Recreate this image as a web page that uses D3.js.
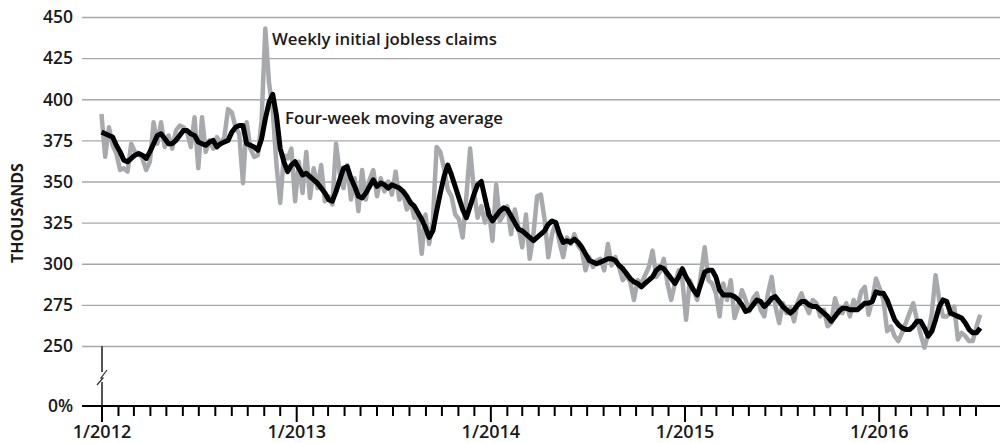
<!DOCTYPE html>
<html>
<head>
<meta charset="utf-8">
<script src="https://cdn.jsdelivr.net/npm/d3@7"></script>
<style>
  body { margin: 0; background: #fff; }
  text { font-family: "Open Sans", sans-serif; }
</style>
</head>
<body>
<svg id="chart" width="1000" height="443"></svg>
<script>
// weekly initial jobless claims, thousands (first week ending 12/31/2011)
var weekly = [
  391,365,383,372,367,357,358,356,373,368,
  367,364,357,362,386,373,386,371,378,370,
  381,384,383,380,371,389,358,389,368,375,
  370,377,373,377,394,392,383,379,349,386,
  370,365,366,387,443,410,393,360,337,366,
  364,370,338,362,343,368,340,358,346,360,
  338,341,336,373,355,346,360,339,352,332,
  357,339,351,357,341,352,344,350,342,356,
  339,343,333,338,328,329,306,330,312,326,
  371,368,358,345,341,330,327,316,341,370,
  345,328,335,325,333,314,348,326,330,335,
  318,333,322,310,330,303,318,341,342,327,
  304,318,325,313,304,316,312,318,311,308,
  296,304,298,302,303,296,312,299,304,298,
  290,293,289,278,290,288,293,298,308,292,
  295,303,288,278,288,296,290,266,290,284,
  278,294,310,290,288,282,268,288,278,290,
  267,274,284,278,271,279,282,272,268,282,
  292,274,264,276,270,273,265,277,282,275,
  270,278,276,268,272,262,264,279,271,270,
  276,268,278,273,283,286,269,278,291,285,
  278,259,262,256,253,258,264,270,276,266,
  257,249,257,270,293,278,268,268,270,274,
  254,258,256,253,253,262,269
];

// four-week moving average, thousands
var average = [
  380,379,378,377,372,368,363,362,364,366,
  367,366,364,368,373,378,379,376,373,373,
  375,378,381,381,379,378,374,373,372,374,
  375,371,373,374,375,380,383,384,384,373,
  372,371,369,376,388,398,403,390,370,362,
  356,360,362,358,354,355,353,351,349,346,
  343,339,338,344,351,358,359,352,347,341,
  340,343,347,351,347,349,348,346,348,347,
  346,344,341,337,335,331,327,322,316,320,
  332,343,353,360,354,347,340,333,328,335,
  342,348,350,340,330,326,329,332,334,333,
  329,325,321,320,318,316,314,316,318,320,
  324,326,325,318,313,314,313,315,313,310,
  306,302,301,300,301,302,303,303,302,299,
  297,294,291,289,288,286,288,290,292,296,
  298,297,294,291,288,292,297,292,288,284,
  281,288,295,296,296,292,284,281,281,281,
  280,278,275,271,272,275,278,277,274,276,
  279,280,277,274,272,270,272,275,277,277,
  275,274,274,272,270,268,265,268,271,273,
  273,272,272,272,274,276,276,277,283,282,
  282,278,272,266,263,261,260,260,262,265,
  265,261,256,259,266,274,278,277,270,269,
  268,267,264,260,258,258,261
];

var yTicks = [250, 275, 300, 325, 350, 375, 400, 425, 450];
var yearLabels = ["1/2012", "1/2013", "1/2014", "1/2015", "1/2016"];
var firstWeek = new Date(2011, 11, 31);

var svg = d3.select("#chart");

var x = d3.scaleTime()
  .domain([new Date(2012, 0, 1), new Date(2016, 6, 1)])
  .range([102, 976]);

var y = d3.scaleLinear()
  .domain([250, 450])
  .range([346, 17]);

var baseY = 406;

var dates = weekly.map(function (d, i) { return d3.timeWeek.offset(firstWeek, i); });

// gridlines
svg.append("g").selectAll("line")
  .data(yTicks)
  .enter().append("line")
  .attr("x1", 82).attr("x2", 1000)
  .attr("y1", function (d) { return y(d) + 0.5; })
  .attr("y2", function (d) { return y(d) + 0.5; })
  .attr("stroke", "#a8a8a8")
  .attr("stroke-width", 1.3);

// y labels
svg.append("g").selectAll("text")
  .data(yTicks)
  .enter().append("text")
  .attr("x", 73)
  .attr("y", function (d) { return y(d); })
  .attr("dy", "0.36em")
  .attr("text-anchor", "end")
  .attr("font-size", 17.5)
  .attr("font-weight", 600)
  .attr("fill", "#1a1a1a")
  .text(function (d) { return d; });

svg.append("text")
  .attr("x", 73).attr("y", baseY)
  .attr("dy", "0.36em")
  .attr("text-anchor", "end")
  .attr("font-size", 17.5)
  .attr("font-weight", 600)
  .attr("fill", "#1a1a1a")
  .text("0%");

svg.append("text")
  .attr("transform", "translate(23,213) rotate(-90)")
  .attr("text-anchor", "middle")
  .attr("font-size", 16)
  .attr("font-weight", 700)
  .attr("fill", "#1a1a1a")
  .text("THOUSANDS");

// broken y axis
svg.append("line")
  .attr("x1", 102).attr("x2", 102)
  .attr("y1", y(250)).attr("y2", baseY)
  .attr("stroke", "#555").attr("stroke-width", 2);
svg.append("rect")
  .attr("x", 98).attr("y", 372).attr("width", 8).attr("height", 10)
  .attr("fill", "#fff");
svg.append("path")
  .attr("d", "M97,385 L103,378 L101,378 L107,370")
  .attr("fill", "none")
  .attr("stroke", "#333").attr("stroke-width", 1.2);

// baseline + month ticks
svg.append("line")
  .attr("x1", 82).attr("x2", 1000)
  .attr("y1", baseY).attr("y2", baseY)
  .attr("stroke", "#000").attr("stroke-width", 2);

var months = d3.timeMonth.range(new Date(2012, 0, 1), new Date(2016, 6, 2));
svg.append("g").selectAll("line")
  .data(months)
  .enter().append("line")
  .attr("x1", function (d) { return x(d); })
  .attr("x2", function (d) { return x(d); })
  .attr("y1", baseY)
  .attr("y2", function (d) { return d.getMonth() === 0 ? baseY + 16 : baseY + 10; })
  .attr("stroke", "#000")
  .attr("stroke-width", 2);

svg.append("g").selectAll("text")
  .data(yearLabels)
  .enter().append("text")
  .attr("x", function (d) { return x(new Date(+d.split("/")[1], 0, 1)); })
  .attr("y", 438)
  .attr("text-anchor", "middle")
  .attr("font-size", 18)
  .attr("font-weight", 600)
  .attr("fill", "#1a1a1a")
  .text(function (d) { return d; });

// series
var line = d3.line()
  .x(function (d, i) { return x(dates[i]); })
  .y(function (d) { return y(d); });

svg.append("path")
  .datum(weekly)
  .attr("d", line)
  .attr("fill", "none")
  .attr("stroke", "#a7a9ac")
  .attr("stroke-width", 4.5)
  .attr("stroke-linejoin", "round");

svg.append("path")
  .datum(average)
  .attr("d", line)
  .attr("fill", "none")
  .attr("stroke", "#000")
  .attr("stroke-width", 5)
  .attr("stroke-linejoin", "round");

// annotations
svg.append("text")
  .attr("x", 272).attr("y", 45)
  .attr("font-size", 16.8).attr("font-weight", 600)
  .attr("fill", "#1a1a1a")
  .text("Weekly initial jobless claims");

svg.append("text")
  .attr("x", 285).attr("y", 124)
  .attr("font-size", 16.8).attr("font-weight", 600)
  .attr("fill", "#1a1a1a")
  .text("Four-week moving average");
</script>
</body>
</html>
